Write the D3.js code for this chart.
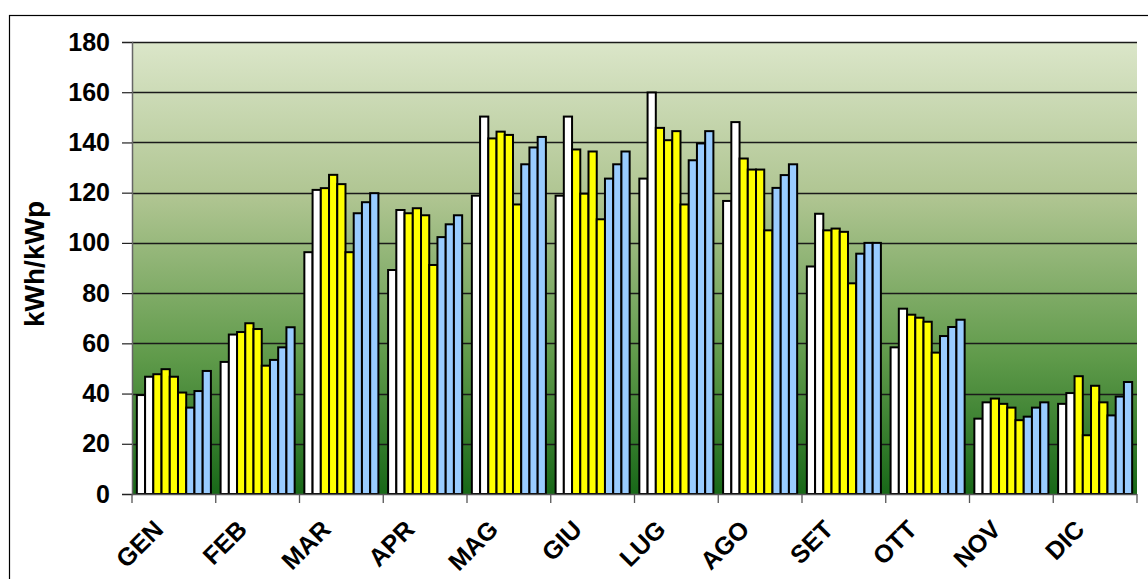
<!DOCTYPE html>
<html>
<head>
<meta charset="utf-8">
<script src="https://cdn.jsdelivr.net/npm/d3@7"></script>
<style>
  html, body { margin: 0; padding: 0; background: #fff; }
  svg { display: block; font-family: "Liberation Sans", Arial, sans-serif; }
</style>
</head>
<body>
<svg id="chart" width="1148" height="579"></svg>
<script>
// Monthly specific yield (kWh/kWp), nine installations per month
const months = ["GEN", "FEB", "MAR", "APR", "MAG", "GIU", "LUG", "AGO", "SET", "OTT", "NOV", "DIC"];

const white1  = [39.4, 52.6,  96.3,  89.2, 118.8, 118.8, 125.6, 116.7,  90.6, 58.4, 30.0, 35.9];
const white2  = [46.7, 63.5, 121.1, 113.1, 150.3, 150.3, 159.9, 148.1, 111.6, 73.8, 36.5, 40.2];
const yellow1 = [47.7, 64.5, 121.8, 111.8, 141.6, 137.2, 145.8, 133.6, 105.0, 71.4, 38.0, 46.9];
const yellow2 = [49.7, 68.0, 127.1, 113.8, 144.3, 119.6, 140.9, 129.2, 105.7, 70.2, 35.9, 23.4];
const yellow3 = [46.7, 65.7, 123.4, 111.0, 143.0, 136.4, 144.5, 129.2, 104.4, 68.6, 34.4, 43.1];
const yellow4 = [40.4, 51.1,  96.3,  91.2, 115.3, 109.4, 115.3, 105.0,  83.9, 56.3, 29.4, 36.5];
const blue1   = [34.4, 53.4, 111.8, 102.3, 131.3, 125.6, 132.9, 121.9,  95.7, 62.9, 30.8, 31.3];
const blue2   = [41.0, 58.4, 116.2, 107.4, 138.0, 131.3, 139.6, 127.0, 100.0, 66.5, 34.4, 38.8];
const blue3   = [49.0, 66.4, 119.8, 111.0, 142.2, 136.4, 144.5, 131.3, 100.0, 69.4, 36.5, 44.6];

const yTicks = [0, 20, 40, 60, 80, 100, 120, 140, 160, 180];
const yTitle = "kWh/kWp";

const seriesList = [
  { values: white1,  fill: "#ffffff" },
  { values: white2,  fill: "#ffffff" },
  { values: yellow1, fill: "#ffff00" },
  { values: yellow2, fill: "#ffff00" },
  { values: yellow3, fill: "#ffff00" },
  { values: yellow4, fill: "#ffff00" },
  { values: blue1,   fill: "#99ccff" },
  { values: blue2,   fill: "#99ccff" },
  { values: blue3,   fill: "#99ccff" }
];

const svg = d3.select("#chart");
const W = 1148, H = 579;
const plot = { left: 132, right: 1137, top: 42, bottom: 494 };

// Chart area frame
svg.append("rect")
  .attr("x", 9.5).attr("y", 15.5)
  .attr("width", W + 20).attr("height", H + 20)
  .attr("fill", "#fff").attr("stroke", "#000").attr("stroke-width", 1.2);

// Plot background gradient
const defs = svg.append("defs");
const grad = defs.append("linearGradient")
  .attr("id", "plotBg").attr("x1", 0).attr("y1", 0).attr("x2", 0).attr("y2", 1);
grad.append("stop").attr("offset", "0%").attr("stop-color", "#dbe6c9");
grad.append("stop").attr("offset", "35%").attr("stop-color", "#aec490");
grad.append("stop").attr("offset", "70%").attr("stop-color", "#5f9a4a");
grad.append("stop").attr("offset", "100%").attr("stop-color", "#186818");

const x0 = d3.scaleBand()
  .domain(months)
  .range([plot.left, plot.right])
  .paddingInner(0).paddingOuter(0);

const x1 = d3.scaleBand()
  .domain(d3.range(seriesList.length))
  .range([0, x0.bandwidth()])
  .paddingInner(0).paddingOuter(0.59);

const y = d3.scaleLinear()
  .domain([0, 180])
  .range([plot.bottom, plot.top]);

svg.append("rect")
  .attr("x", plot.left).attr("y", plot.top)
  .attr("width", plot.right - plot.left).attr("height", plot.bottom - plot.top)
  .attr("fill", "url(#plotBg)");

// Horizontal gridlines
svg.append("g")
  .selectAll("line")
  .data(yTicks.filter(d => d > 0))
  .join("line")
  .attr("x1", plot.left).attr("x2", plot.right)
  .attr("y1", d => Math.round(y(d)) + 0.5).attr("y2", d => Math.round(y(d)) + 0.5)
  .attr("stroke", "#1a1a1a").attr("stroke-width", 1.3);

// Bars
const groups = svg.append("g")
  .selectAll("g")
  .data(months)
  .join("g")
  .attr("transform", d => `translate(${x0(d)},0)`);

groups.selectAll("rect")
  .data((m, mi) => seriesList.map((s, si) => ({ si, v: s.values[mi], fill: s.fill })))
  .join("rect")
  .attr("x", d => x1(d.si))
  .attr("y", d => y(d.v))
  .attr("width", x1.bandwidth())
  .attr("height", d => y(0) - y(d.v))
  .attr("fill", d => d.fill)
  .attr("stroke", "#000")
  .attr("stroke-width", 2);

// Y axis
const yAxis = d3.axisLeft(y)
  .tickValues(yTicks)
  .tickSize(10)
  .tickPadding(12)
  .tickFormat(d3.format("d"));

const gy = svg.append("g")
  .attr("transform", `translate(${plot.left},0)`)
  .call(yAxis);
gy.select(".domain").attr("stroke", "#666").attr("stroke-width", 1.5);
gy.selectAll(".tick line").attr("stroke", "#222").attr("stroke-width", 1.2);
gy.selectAll(".tick text")
  .attr("font-size", 25).attr("font-weight", "bold").attr("fill", "#000")
  .attr("font-family", "Liberation Sans, Arial, sans-serif");

// X axis: ticks at month boundaries
const boundaries = months.map(m => x0(m)).concat([plot.right]);
const gx = svg.append("g");
gx.append("line")
  .attr("x1", plot.left).attr("x2", plot.right)
  .attr("y1", plot.bottom + 0.5).attr("y2", plot.bottom + 0.5)
  .attr("stroke", "#555").attr("stroke-width", 1.5);
gx.selectAll("line.tk")
  .data(boundaries)
  .join("line")
  .attr("class", "tk")
  .attr("x1", d => d).attr("x2", d => d)
  .attr("y1", plot.bottom).attr("y2", plot.bottom + 9)
  .attr("stroke", "#555").attr("stroke-width", 1.3);

gx.selectAll("text")
  .data(months)
  .join("text")
  .attr("transform", d => `translate(${x0(d) + x0.bandwidth() / 2 - 9},${plot.bottom + 37}) rotate(-45)`)
  .attr("text-anchor", "end")
  .attr("font-size", 25).attr("font-weight", "bold").attr("fill", "#000")
  .text(d => d);

// Y axis title
svg.append("text")
  .attr("transform", `translate(44,264) rotate(-90)`)
  .attr("text-anchor", "middle")
  .attr("font-size", 28).attr("font-weight", "bold").attr("fill", "#000")
  .text(yTitle);
</script>
</body>
</html>
